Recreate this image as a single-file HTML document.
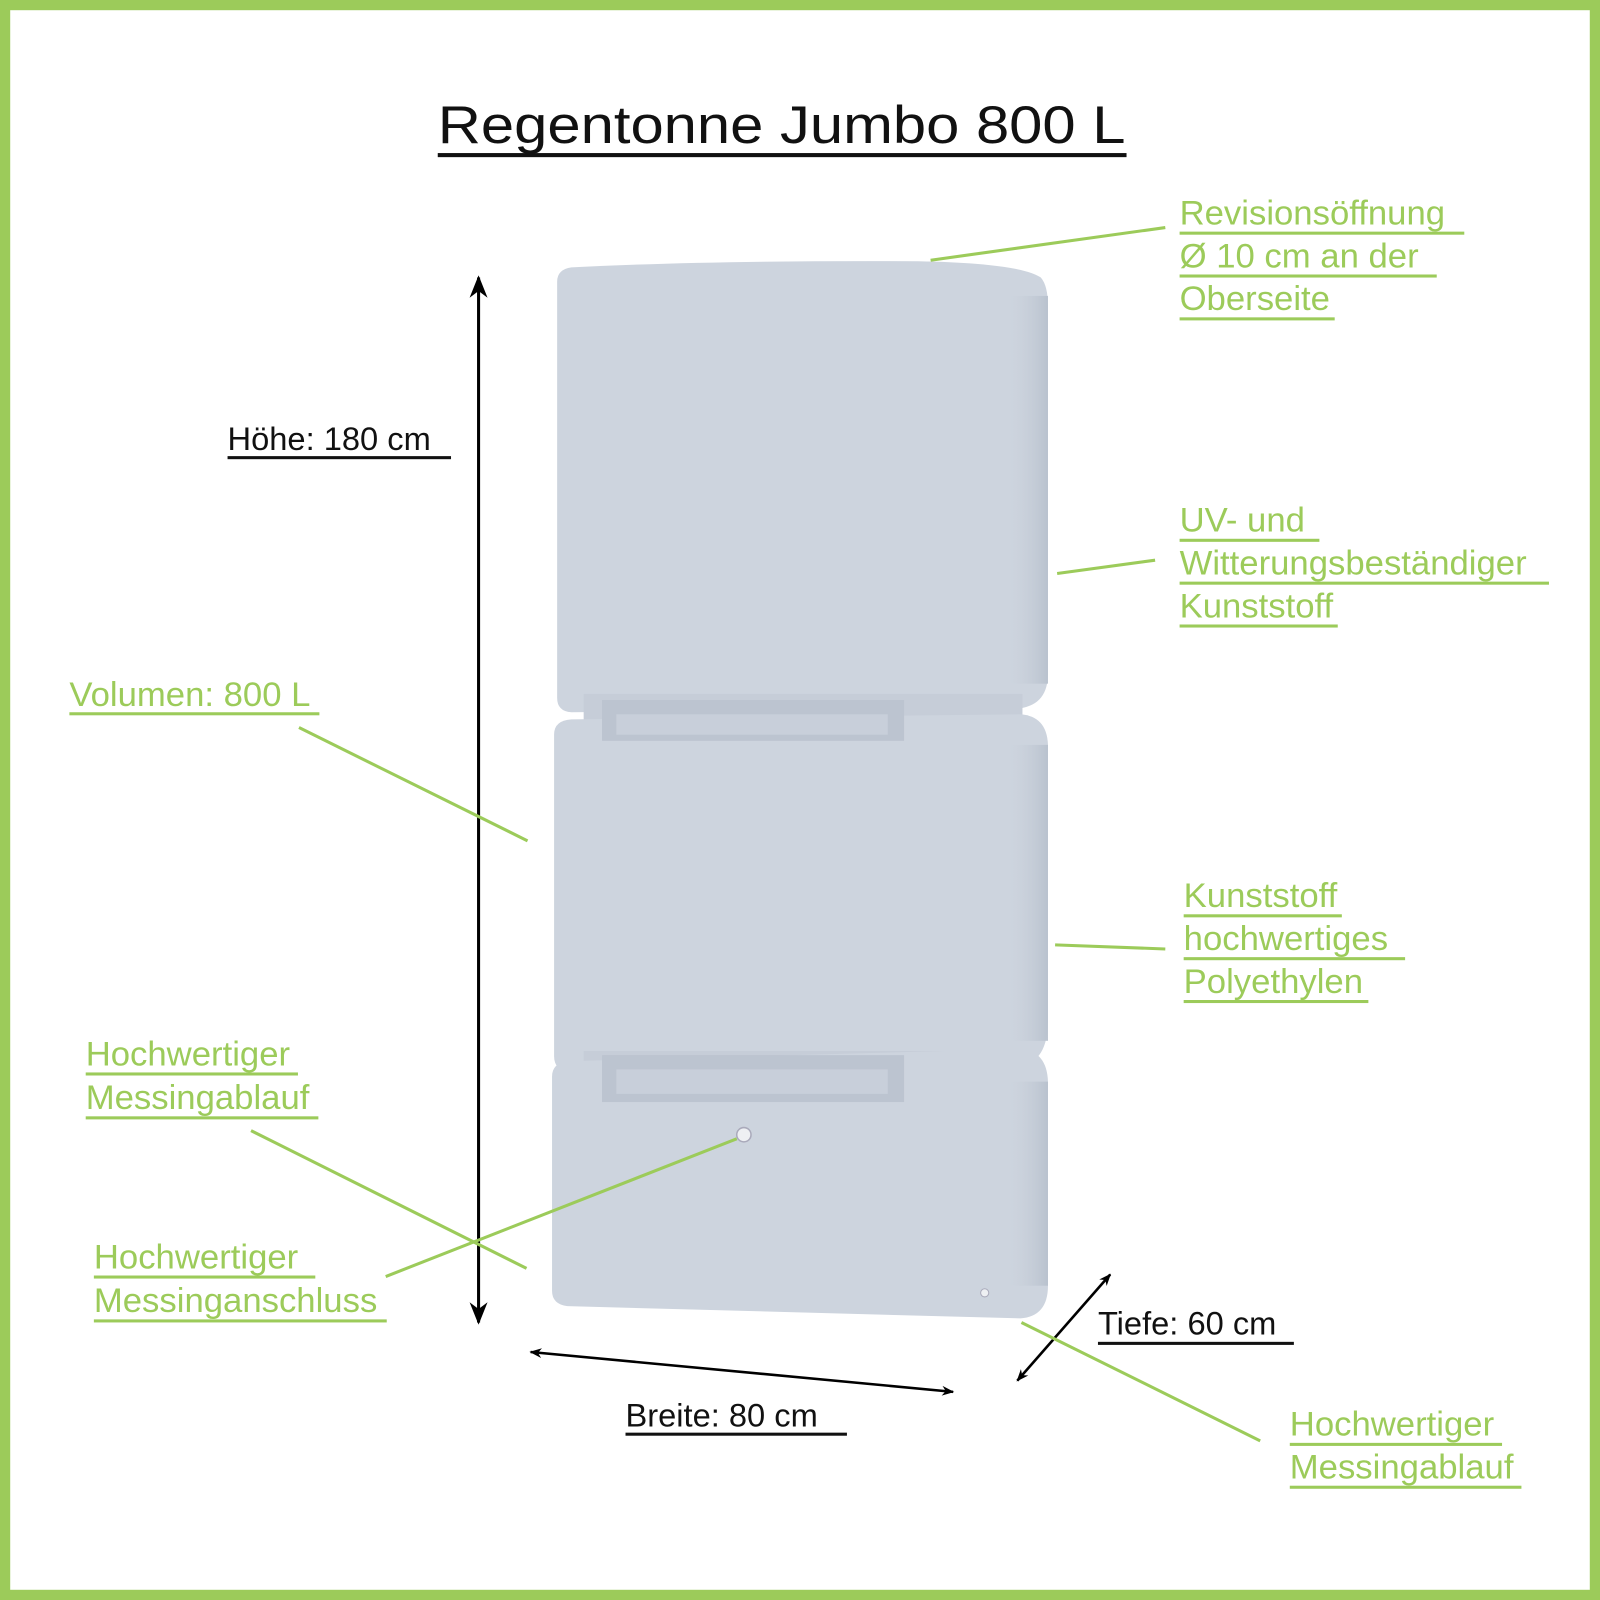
<!DOCTYPE html>
<html><head><meta charset="utf-8"><style>
html,body{margin:0;padding:0;background:#fff}
svg{display:block}
text{font-family:"Liberation Sans",Arial,sans-serif}
.g{fill:#9ccb5a;font-size:34px}
.k{fill:#111;font-size:32px}
</style></head><body>
<svg width="1600" height="1600" viewBox="0 0 1568 1568" xmlns="http://www.w3.org/2000/svg">
<defs>
<marker id="ah" viewBox="0 0 20 20" refX="18" refY="10" markerWidth="12" markerHeight="12" orient="auto-start-reverse" markerUnits="userSpaceOnUse"><path d="M0,2 L20,10 L0,18 L6,10 Z" fill="#000"/></marker>
<marker id="ah2" viewBox="0 0 20 20" refX="18" refY="10" markerWidth="22" markerHeight="22" orient="auto-start-reverse" markerUnits="userSpaceOnUse"><path d="M0,2 L20,10 L0,18 L6,10 Z" fill="#000"/></marker>
<linearGradient id="side" x1="0" x2="1" y1="0" y2="0"><stop offset="0" stop-color="#cdd4de" stop-opacity="0"/><stop offset="1" stop-color="#b9c2ce"/></linearGradient>
</defs>
<rect x="5" y="5" width="1558" height="1558" fill="#fff" stroke="#9ccb5a" stroke-width="10"/>
<text x="429" y="140" font-size="52" fill="#111" textLength="674" lengthAdjust="spacingAndGlyphs">Regentonne Jumbo 800 L</text>
<rect x="429" y="150" width="675" height="4" fill="#111"/>

<!-- tank -->
<g fill="#cdd4de">
<path d="M560,262 Q700,255 900,256 Q1000,258 1020,272 Q1027,280 1027,300 L1027,660 Q1027,690 1000,694 L560,698 Q546,697 546,684 L546,276 Q546,264 560,262 Z"/>
<rect x="572" y="680" width="430" height="50" fill="#c6cdd8"/>
<path d="M560,705 L1000,700 Q1026,702 1027,730 L1027,1000 Q1027,1040 1000,1045 L558,1050 Q543,1049 543,1035 L543,720 Q543,706 560,705 Z"/>
<rect x="572" y="1030" width="430" height="55" fill="#c6cdd8"/>
<path d="M556,1040 L1000,1028 Q1026,1030 1027,1060 L1027,1260 Q1027,1290 1000,1292 L556,1280 Q541,1278 541,1265 L541,1055 Q541,1042 556,1040 Z"/>
</g>
<rect x="590" y="686" width="296" height="40" fill="#bcc4d0"/>
<rect x="604" y="700" width="266" height="20" fill="#c8cfda"/>
<rect x="590" y="1034" width="296" height="46" fill="#bcc4d0"/>
<rect x="604" y="1048" width="266" height="24" fill="#c8cfda"/>
<rect x="985" y="290" width="42" height="380" fill="url(#side)"/>
<rect x="985" y="730" width="42" height="290" fill="url(#side)"/>
<rect x="985" y="1060" width="42" height="200" fill="url(#side)"/>
<circle cx="729" cy="1112" r="7" fill="#eef0f3" stroke="#aab" stroke-width="1.5"/>
<circle cx="965" cy="1267" r="4" fill="#eef0f3" stroke="#aab"/>

<!-- dimension arrows -->
<line x1="469" y1="272" x2="469" y2="1296" stroke="#000" stroke-width="3" marker-start="url(#ah2)" marker-end="url(#ah2)"/>
<line x1="520" y1="1325" x2="934" y2="1364" stroke="#000" stroke-width="2.5" marker-start="url(#ah)" marker-end="url(#ah)"/>
<line x1="997" y1="1353" x2="1088" y2="1249" stroke="#000" stroke-width="2.5" marker-start="url(#ah)" marker-end="url(#ah)"/>

<!-- green leader lines -->
<g stroke="#9ccb5a" stroke-width="3">
<line x1="912" y1="255" x2="1142" y2="223"/>
<line x1="1036" y1="562" x2="1132" y2="549"/>
<line x1="293" y1="713" x2="517" y2="824"/>
<line x1="1034" y1="926" x2="1142" y2="930"/>
<line x1="246" y1="1108" x2="516" y2="1243"/>
<line x1="378" y1="1251" x2="722" y2="1116"/>
<line x1="1001" y1="1296" x2="1235" y2="1412"/>
</g>

<!-- black labels -->
<text class="k" x="223" y="441">Höhe: 180 cm</text>
<rect x="223" y="447" width="219" height="3" fill="#111"/>
<text class="k" x="613" y="1398">Breite: 80 cm</text>
<rect x="613" y="1404" width="217" height="3" fill="#111"/>
<text class="k" x="1076" y="1308">Tiefe: 60 cm</text>
<rect x="1076" y="1315" width="192" height="3" fill="#111"/>

<!-- green labels -->
<g class="g">
<text x="1156" y="220">Revisionsöffnung</text>
<text x="1156" y="262">Ø 10 cm an der</text>
<text x="1156" y="304">Oberseite</text>
<text x="1156" y="521">UV- und</text>
<text x="1156" y="563">Witterungsbeständiger</text>
<text x="1156" y="605">Kunststoff</text>
<text x="68" y="692">Volumen: 800 L</text>
<text x="1160" y="889">Kunststoff</text>
<text x="1160" y="931">hochwertiges</text>
<text x="1160" y="973">Polyethylen</text>
<text x="84" y="1044">Hochwertiger</text>
<text x="84" y="1087">Messingablauf</text>
<text x="92" y="1243">Hochwertiger</text>
<text x="92" y="1286">Messinganschluss</text>
<text x="1264" y="1407">Hochwertiger</text>
<text x="1264" y="1449">Messingablauf</text>
</g>
<g fill="#9ccb5a">
<rect x="1156" y="227" width="279" height="3"/>
<rect x="1156" y="269" width="252" height="3"/>
<rect x="1156" y="311" width="152" height="3"/>
<rect x="1156" y="528" width="137" height="3"/>
<rect x="1156" y="570" width="362" height="3"/>
<rect x="1156" y="612" width="155" height="3"/>
<rect x="68" y="698" width="245" height="3"/>
<rect x="1160" y="896" width="155" height="3"/>
<rect x="1160" y="938" width="217" height="3"/>
<rect x="1160" y="980" width="181" height="3"/>
<rect x="84" y="1051" width="208" height="3"/>
<rect x="84" y="1094" width="228" height="3"/>
<rect x="92" y="1250" width="217" height="3"/>
<rect x="92" y="1293" width="287" height="3"/>
<rect x="1264" y="1414" width="208" height="3"/>
<rect x="1264" y="1456" width="227" height="3"/>
</g>
</svg>
</body></html>
